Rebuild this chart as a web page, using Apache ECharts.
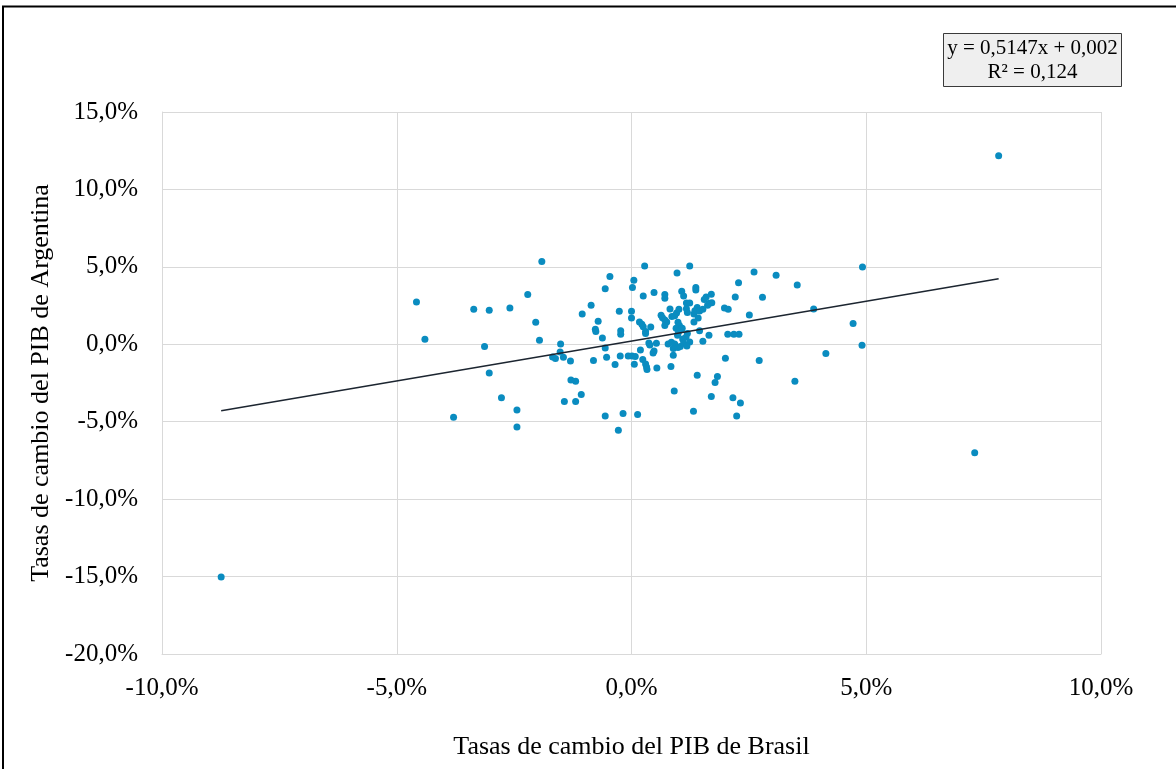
<!DOCTYPE html>
<html>
<head>
<meta charset="utf-8">
<script src="https://cdn.jsdelivr.net/npm/echarts@6/dist/echarts.min.js"></script>
<style>
html,body{margin:0;padding:0;background:#fff;}
#chart{width:1176px;height:769px;}
</style>
</head>
<body>
<div id="chart"></div>
<script>
// Tasas de cambio del PIB de Brasil (%)
const brasil = [
-8.74,-4.58,-4.40,-3.79,-3.36,-3.03,-3.13,-3.03,-2.77,-2.59,-2.44,-2.44,-2.21,-2.04,-1.96,-1.91,
-1.51,-1.52,-1.68,-1.62,-1.45,-1.30,-1.29,-1.19,-1.07,-1.43,-1.19,-1.05,-0.86,-0.71,-0.77,-0.76,-0.81,-0.62,-0.56,-0.46,-0.56,-0.53,-0.35,-0.26,-0.23,-0.23,-0.24,-0.56,-0.18,-0.28,0.13,-0.07,0.01,0.08,0.06,0.00,0.00,0.05,0.02,
0.28,1.24,0.97,0.25,0.48,0.71,0.71,1.07,1.11,1.37,1.37,1.59,1.55,1.70,1.66,1.71,1.17,1.24,2.21,1.98,2.06,2.28,
0.17,0.22,0.25,0.30,0.30,0.41,0.63,0.66,0.71,0.75,0.71,0.82,0.86,0.92,0.96,1.01,0.99,1.02,0.95,1.06,1.08,1.17,1.19,1.33,1.40,1.35,1.45,1.42,1.52,1.62,1.33,1.45,1.65,1.52,1.19,1.16,1.09,0.98,1.00,0.85,0.78,0.92,0.89,0.99,1.04,1.11,1.24,1.18,0.37,0.39,0.53,0.48,0.46,0.89,0.19,0.24,0.30,0.33,0.32,0.54,0.84,1.40,1.83,1.78,2.00,2.05,2.18,2.29,0.91,1.70,2.16,1.32,2.24,
2.61,3.08,3.53,2.79,2.51,3.88,4.72,4.92,4.91,4.14,2.72,3.48,2.32,7.82,7.31
];
// Tasas de cambio del PIB de Argentina (%)
const argentina = [
-15.03,2.73,0.32,-4.71,2.26,2.19,-0.15,-1.85,-3.46,2.34,-4.24,-5.34,3.21,1.42,0.26,5.35,
0.02,-0.50,-0.82,-0.92,-0.84,-1.08,-2.30,-2.39,-3.25,-3.70,-3.70,1.95,2.52,1.48,0.97,0.82,-1.05,0.41,3.59,4.37,-0.24,-0.84,-1.31,2.13,0.87,0.65,-0.75,-4.63,-4.47,-5.55,-4.54,-0.75,-0.75,-0.79,-1.29,2.13,1.70,4.13,3.66,
5.05,5.05,4.60,3.12,3.35,3.21,2.97,3.42,3.12,3.66,3.50,3.05,2.90,3.23,2.65,2.69,2.66,2.66,3.05,2.34,2.26,3.98,
1.44,1.29,1.14,0.82,0.69,1.12,1.87,1.72,1.57,1.44,1.21,2.28,1.79,1.85,2.02,2.26,1.42,1.21,1.03,0.99,1.03,2.30,2.05,1.95,2.37,2.17,2.15,1.70,2.26,2.52,1.44,0.88,0.58,0.19,0.69,0.45,0.34,0.58,0.77,0.13,0.02,0.02,-0.28,-0.21,-0.15,0.06,0.15,-0.11,0.08,-0.05,0.06,-0.43,-0.56,-0.71,-0.37,-0.99,-1.27,-1.63,-1.46,-1.53,-1.44,-2.00,-2.08,-2.47,-0.90,0.65,0.65,0.65,-3.01,-3.37,-3.46,-4.32,-4.63,
4.66,4.45,3.83,3.03,1.89,2.28,1.35,4.99,-0.06,-0.60,-1.05,-2.39,-3.79,12.17,-7.01
];
// Trend line (fraction units as in Excel): y = slope*x + intercept
const slope = 0.5147;
const intercept = 0.002;
const r2 = 0.124;
const xTicks = {min:-10, max:10, interval:5};
const yTicks = {min:-20, max:15, interval:5};

const points = brasil.map((v,i)=>[v, argentina[i]]);
const xMin = Math.min(...brasil), xMax = Math.max(...brasil);
const trend = [[xMin, slope*xMin + intercept*100], [xMax, slope*xMax + intercept*100]];
const fmt = v => v.toFixed(1).replace('.', ',') + '%';
const eqText = 'y = ' + slope.toString().replace('.', ',') + 'x + ' + intercept.toFixed(3).replace('.', ',') +
  '\nR² = ' + r2.toFixed(3).replace('.', ',');

const FONT = 'Liberation Serif';
const chart = echarts.init(document.getElementById('chart'), null, {renderer:'canvas'});
chart.setOption({
  animation:false,
  backgroundColor:'#fff',
  textStyle:{fontFamily:FONT},
  graphic:[
    {type:'rect', x:3, y:6.5, shape:{x:0,y:0,width:1190,height:780},
     style:{fill:'none', stroke:'#000', lineWidth:2}, z:-1, silent:true},
    {type:'rect', x:943.5, y:33.5, shape:{x:0,y:0,width:178,height:53},
     style:{fill:'#efefef', stroke:'#3a3a3a', lineWidth:1}, z:10},
    {type:'text', x:1032.5, y:36, z:11,
     style:{text:eqText, font:'21px "Liberation Serif"', fill:'#000', align:'center', verticalAlign:'top', lineHeight:24}}
  ],
  grid:{left:162, right:75, top:112, bottom:115, containLabel:false},
  xAxis:{
    type:'value', min:xTicks.min, max:xTicks.max, interval:xTicks.interval,
    name:'Tasas de cambio del PIB de Brasil', nameLocation:'middle', nameGap:80,
    nameTextStyle:{fontFamily:FONT, fontSize:26, color:'#000'},
    axisLine:{show:true, onZero:false, lineStyle:{color:'#d9d9d9'}},
    axisTick:{show:false},
    axisLabel:{formatter:fmt, fontFamily:FONT, fontSize:25, color:'#000', margin:22},
    splitLine:{show:true, lineStyle:{color:'#d9d9d9', width:1}}
  },
  yAxis:{
    type:'value', min:yTicks.min, max:yTicks.max, interval:yTicks.interval,
    name:'Tasas de cambio del PIB de Argentina', nameLocation:'middle', nameGap:108, nameRotate:90,
    nameTextStyle:{fontFamily:FONT, fontSize:26, color:'#000'},
    axisLine:{show:true, onZero:false, lineStyle:{color:'#d9d9d9'}},
    axisTick:{show:false},
    axisLabel:{formatter:fmt, fontFamily:FONT, fontSize:25, color:'#000', margin:24},
    splitLine:{show:true, lineStyle:{color:'#d9d9d9', width:1}}
  },
  series:[
    {type:'scatter', data:points, symbolSize:7, itemStyle:{color:'#0a8cc0', opacity:1}, z:3},
    {type:'line', data:trend, symbol:'none', lineStyle:{color:'#1c2530', width:1.5}, z:4}
  ]
});
</script>
</body>
</html>
